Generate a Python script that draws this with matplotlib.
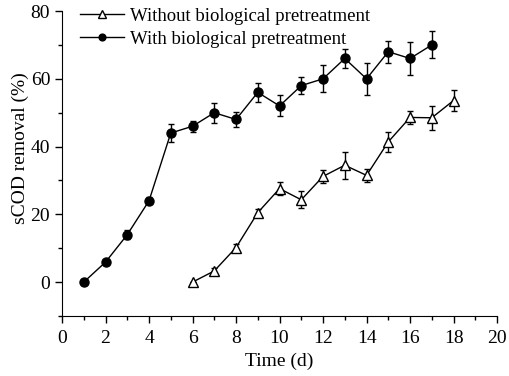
import matplotlib
matplotlib.use("Agg")
import matplotlib.pyplot as plt
from matplotlib.ticker import MultipleLocator

plt.rcParams["font.family"] = ["Liberation Serif", "DejaVu Serif"]

# without biological pretreatment
days_without = [6, 7, 8, 9, 10, 11, 12, 13, 14, 15, 16, 17, 18]
scod_without = [0, 3.3, 10.2, 20.5, 27.6, 24.3, 31.2, 34.5, 31.5, 41.4, 48.6, 48.5, 53.6]
err_without = [0, 1, 1, 1, 2, 2.5, 2, 4, 2, 3, 2, 3.5, 3]

# with biological pretreatment
days_with = [1, 2, 3, 4, 5, 6, 7, 8, 9, 10, 11, 12, 13, 14, 15, 16, 17]
scod_with = [0, 5.9, 14, 24, 44, 46, 50, 48, 56, 52, 58, 60, 66, 60, 68, 66, 70]
err_with = [0, 0.5, 1.3, 1, 2.6, 1.6, 3, 2.2, 2.8, 3.1, 2.6, 4, 2.7, 4.8, 3.3, 5, 4]

fig = plt.figure(figsize=(5.1, 3.76), dpi=100)
ax = fig.add_axes([0.1216, 0.1596, 0.853, 0.811])

eb1 = ax.errorbar(days_without, scod_without, yerr=err_without, color="black", lw=1,
                  marker="^", markersize=7, markerfacecolor="white", markeredgecolor="black",
                  capsize=2.5, elinewidth=1, capthick=1)
eb2 = ax.errorbar(days_with, scod_with, yerr=err_with, color="black", lw=1,
                  marker="o", markersize=6.5, markerfacecolor="black",
                  capsize=2.5, elinewidth=1, capthick=1)

ax.set_xlim(0, 20)
ax.set_ylim(-10, 80)
ax.xaxis.set_major_locator(MultipleLocator(2))
ax.xaxis.set_minor_locator(MultipleLocator(1))
ax.yaxis.set_major_locator(MultipleLocator(20))
ax.yaxis.set_minor_locator(MultipleLocator(10))
ax.spines["top"].set_visible(False)
ax.spines["right"].set_visible(False)
ax.tick_params(which="both", direction="out", labelsize=14, width=1)
ax.tick_params(axis="x", pad=5)
ax.tick_params(which="major", length=5)
ax.tick_params(which="minor", length=3)

ax.set_xlabel("Time (d)", fontsize=14, labelpad=4)
ax.set_ylabel("sCOD removal (%)", fontsize=14, labelpad=1, y=0.55)

# legend shows only line + marker
ax.legend([eb1.lines[0], eb2.lines[0]],
          ["Without biological pretreatment", "With biological pretreatment"],
          loc="upper left", frameon=False, fontsize=13.5, handlelength=2.3,
          handletextpad=0.35, borderaxespad=0.0, labelspacing=0.3, markerscale=0.75,
          bbox_to_anchor=(0.025, 1.035))

fig.savefig("out.png", dpi=100)
plt.close()
